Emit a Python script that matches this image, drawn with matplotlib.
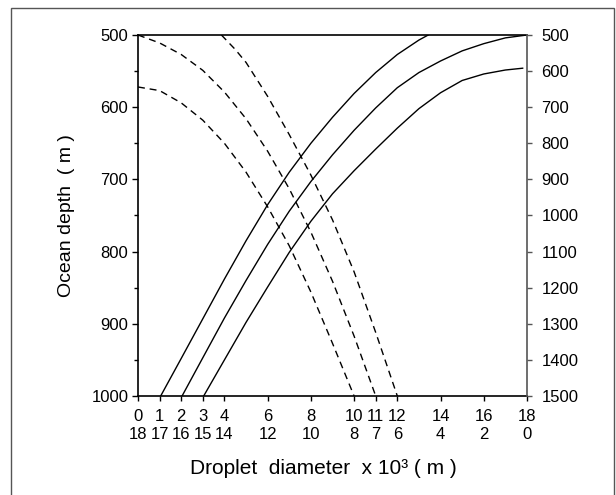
# plot.py
#
#   Profondeur océanique en fonction du diamètre des gouttelettes
#   (courbes pleines : remontée, courbes pointillées : descente)
# ----------------------------------------------------------------- #

import matplotlib
matplotlib.use("Agg")
import matplotlib.pyplot as plt
from matplotlib.patches import Rectangle

plt.rcParams["font.family"] = ["Liberation Sans", "DejaVu Sans"]

# Courbes pleines (diamètre x 10^3, profondeur en m)
plein_1_x = [1.05, 2, 3, 4, 5, 6, 7, 8, 9, 10, 11, 12, 13, 13.43]
plein_1_d = [1000, 948, 893, 838, 785, 735, 690, 650, 614, 581, 552, 527, 507, 500]

plein_2_x = [2.04, 3, 4, 5, 6, 7, 8, 9, 10, 11, 12, 13, 14, 15, 16, 17, 18]
plein_2_d = [1000, 947, 892, 840, 790, 744, 703, 666, 632, 601, 573, 552, 536, 522, 512, 504, 500]

plein_3_x = [3.04, 4, 5, 6, 7, 8, 9, 10, 11, 12, 13, 14, 15, 16, 17, 17.8]
plein_3_d = [1000, 950, 898, 849, 801, 758, 720, 688, 658, 629, 602, 580, 563, 554, 548.5, 546]

# Courbes pointillées
tiret_1_x = [3.86, 4.5, 5, 6, 7, 8, 9, 10, 11, 12]
tiret_1_d = [500, 520, 538, 585, 638, 694, 756, 828, 912, 1000]

tiret_2_x = [0, 1, 2, 3, 4, 5, 6, 7, 8, 9, 10, 11]
tiret_2_d = [500, 511, 527, 549, 579, 616, 661, 713, 773, 841, 917, 1000]

tiret_3_x = [0, 1, 2, 3, 4, 5, 6, 7, 8, 9, 10]
tiret_3_d = [572, 577, 594, 618, 650, 690, 738, 792, 856, 927, 1000]

# Graduations
ticks_x = [0, 1, 2, 3, 4, 6, 8, 10, 11, 12, 14, 16, 18]
ticks_gauche = [500, 600, 700, 800, 900, 1000]
ticks_gauche_mineurs = [550, 650, 750, 850, 950]
ticks_droite = [500, 600, 700, 800, 900, 1000, 1100, 1200, 1300, 1400, 1500]


fig = plt.figure(figsize=(6.16, 4.95), dpi=100)
ax = fig.add_axes([0.224, 0.2, 0.6315, 0.7293])

# Cadre autour de la figure
fig.patches.append(Rectangle((0.0179, -0.02), 0.979, 1.0038, transform=fig.transFigure,
                             fill=False, edgecolor="#555555", linewidth=1.0))

for xs, ds in [(plein_1_x, plein_1_d), (plein_2_x, plein_2_d), (plein_3_x, plein_3_d)]:
    ax.plot(xs, ds, color="black", linewidth=1.0)

for xs, ds in [(tiret_1_x, tiret_1_d), (tiret_2_x, tiret_2_d), (tiret_3_x, tiret_3_d)]:
    ax.plot(xs, ds, color="black", linewidth=1.0, linestyle=(0, (5, 3.5)))

ax.set_xlim(0, 18)
ax.set_ylim(1000, 500)
ax.set_xticks(ticks_x)
ax.set_xticklabels([f"{v}\n{18 - v}" for v in ticks_x], fontsize=12, linespacing=1.25)
ax.set_yticks(ticks_gauche)
ax.set_yticks(ticks_gauche_mineurs, minor=True)
ax.tick_params(axis="y", labelsize=12, length=4, width=1, pad=3)
ax.tick_params(axis="y", which="minor", length=3, width=1)
ax.tick_params(axis="x", length=3.5, width=1, pad=6)
ax.set_ylabel("Ocean depth  ( m )", fontsize=14, labelpad=12)
ax.set_xlabel("Droplet  diameter  x 10³ ( m )", fontsize=15)
ax.xaxis.set_label_coords(0.477, -0.175)

for s in ["left", "bottom", "top"]:
    ax.spines[s].set_linewidth(1.2)
ax.spines["right"].set_visible(False)

# Axe de droite
ax2 = ax.twinx()
ax2.set_ylim(1500, 500)
ax2.set_yticks(ticks_droite)
ax2.tick_params(axis="y", labelsize=12, length=3.5, width=1, pad=7, color="#555555")
for s in ["left", "bottom", "top"]:
    ax2.spines[s].set_visible(False)
ax2.spines["right"].set_color("#555555")
ax2.spines["right"].set_linewidth(1.2)

plt.savefig("out.png", dpi=100)
plt.close()
